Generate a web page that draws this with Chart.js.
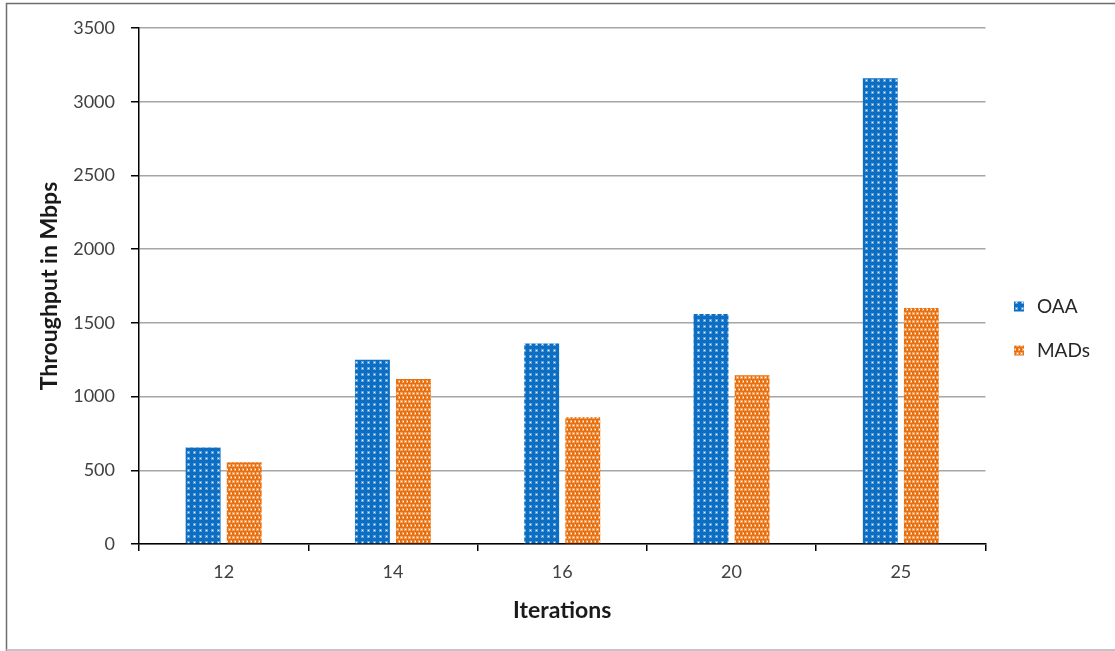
<!DOCTYPE html>
<html>
<head>
<meta charset="utf-8">
<script src="https://cdn.jsdelivr.net/npm/chart.js@4/dist/chart.umd.min.js"></script>
<style>
  html, body { margin: 0; padding: 0; background: #ffffff; }
  #wrap { width: 1115px; height: 651px; position: relative; }
</style>
</head>
<body>
<div id="wrap"><canvas id="chart" width="1115" height="651"></canvas></div>
<script>
// Throughput per iteration count
const iterations = ['12', '14', '16', '20', '25'];
const oaaValues = [655, 1250, 1360, 1560, 3160];
const madsValues = [555, 1120, 860, 1145, 1600];
const seriesNames = ['OAA', 'MADs'];
const yTicks = [0, 500, 1000, 1500, 2000, 2500, 3000, 3500];

const FONT = 'Lato, "Open Sans", "DejaVu Sans", sans-serif';

// Dotted fills for the bars
function dotPattern(base, w, h, dots) {
  const c = document.createElement('canvas');
  c.width = w; c.height = h;
  const g = c.getContext('2d');
  g.fillStyle = base;
  g.fillRect(0, 0, w, h);
  dots.forEach(([x, y]) => {
    g.fillStyle = 'rgba(255,255,255,0.35)';
    g.fillRect(x - 1, y - 1, 3, 3);
    g.fillStyle = '#ffffff';
    g.fillRect(x, y, 1, 1);
  });
  return g.createPattern(c, 'repeat');
}
const ctx = document.getElementById('chart').getContext('2d');
const bluePattern = dotPattern('#0b6ec3', 6, 6, [[2, 2]]);
const orangePattern = dotPattern('#e8700e', 4, 8, [[1, 1], [3, 5]]);

// Outer frame around the figure
const framePlugin = {
  id: 'frame',
  beforeDraw(chart) {
    const c = chart.ctx;
    c.save();
    c.fillStyle = '#ffffff';
    c.fillRect(0, 0, chart.width, chart.height);
    c.strokeStyle = '#6e6e6e';
    c.lineWidth = 1.5;
    c.beginPath();
    c.moveTo(6.5, chart.height);
    c.lineTo(6.5, 3.5);
    c.lineTo(chart.width, 3.5);
    c.stroke();
    c.strokeStyle = '#c4c4c4';
    c.lineWidth = 2;
    c.beginPath();
    c.moveTo(6.5, 650);
    c.lineTo(chart.width, 650);
    c.stroke();
    c.restore();
  }
};

new Chart(ctx, {
  type: 'bar',
  data: {
    labels: iterations,
    datasets: [
      { label: seriesNames[0], data: oaaValues, backgroundColor: bluePattern, borderWidth: 0 },
      { label: seriesNames[1], data: madsValues, backgroundColor: orangePattern, borderWidth: 0 }
    ]
  },
  options: {
    responsive: false,
    animation: false,
    devicePixelRatio: 1,
    categoryPercentage: 0.485,
    barPercentage: 0.85,
    layout: { padding: { left: 0, right: 15, top: 28, bottom: 22 } },
    plugins: {
      tooltip: { enabled: false },
      legend: {
        position: 'right',
        align: 'center',
        labels: {
          usePointStyle: true,
          pointStyle: 'rect',
          boxWidth: 17,
          boxHeight: 10,
          padding: 25,
          color: '#262626',
          font: { family: FONT, size: 19 }
        }
      }
    },
    scales: {
      x: {
        grid: {
          display: true,
          offset: true,
          drawOnChartArea: false,
          drawTicks: true,
          tickLength: 7,
          color: '#000000',
          lineWidth: 1.5
        },
        border: { display: true, color: '#000000', width: 1.5 },
        ticks: {
          color: '#404040',
          padding: 10,
          font: { family: FONT, size: 18 }
        },
        title: {
          display: true,
          text: 'Iterations',
          color: '#1a1a1a',
          padding: { top: 0, bottom: 5 },
          font: { family: FONT, size: 23, weight: 'bold' }
        },
        afterFit(scale) { scale.height = 85; }
      },
      y: {
        min: 0,
        max: 3500,
        afterBuildTicks(scale) { scale.ticks = yTicks.map(v => ({ value: v })); },
        grid: {
          color: '#a6a6a6',
          lineWidth: 1.5,
          tickColor: '#000000',
          tickLength: 8,
          drawTicks: true
        },
        border: { display: true, color: '#000000', width: 1.5 },
        ticks: {
          color: '#404040',
          padding: 16,
          font: { family: FONT, size: 18 },
          callback: (v) => String(v)
        },
        title: {
          display: true,
          text: 'Throughput in Mbps',
          color: '#1a1a1a',
          padding: { top: 36, bottom: 0 },
          font: { family: FONT, size: 23, weight: 'bold' }
        },
        afterFit(scale) { scale.width = 139; }
      }
    }
  },
  plugins: [framePlugin]
});
</script>
</body>
</html>
